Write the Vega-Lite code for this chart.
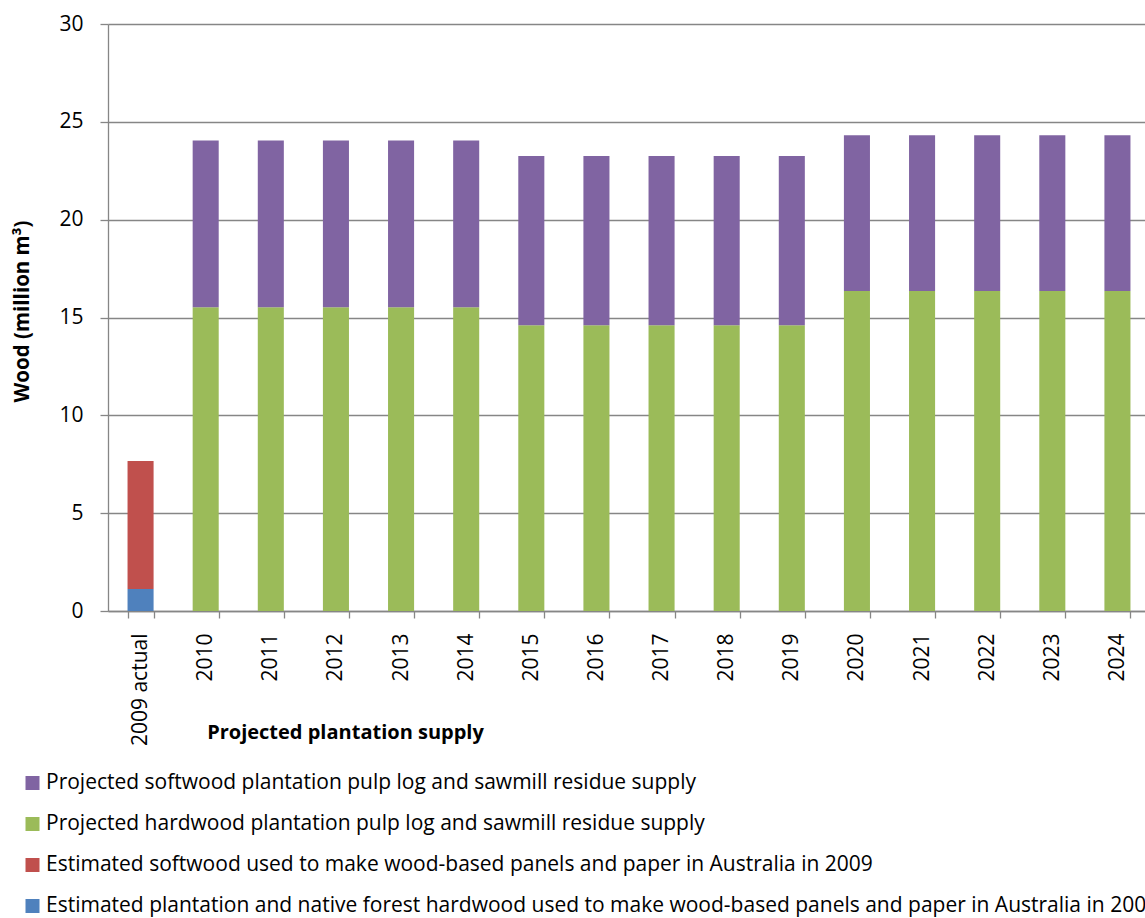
{
  "$schema": "https://vega.github.io/schema/vega-lite/v6.json",
  "autosize": {"type": "none"},
  "width": 1037,
  "height": 587,
  "padding": {"left": 108, "top": 24, "right": 0, "bottom": 307},
  "background": "white",
  "config": {
    "font": "Open Sans",
    "view": {"stroke": null},
    "axis": {
      "labelFont": "Open Sans",
      "titleFont": "Open Sans",
      "labelColor": "#000000",
      "titleColor": "#000000",
      "domainColor": "#868686",
      "tickColor": "#868686",
      "gridColor": "#868686",
      "domainWidth": 1.3,
      "tickWidth": 1.3,
      "gridWidth": 1.3
    },
    "legend": {"labelFont": "Open Sans"}
  },
  "data": {
    "values": [
      {"year": "2009 actual", "series": "Estimated plantation and native forest hardwood used to make wood-based panels and paper in Australia in 2009", "value": 1.12},
      {"year": "2009 actual", "series": "Estimated softwood used to make wood-based panels and paper in Australia in 2009", "value": 6.54},
      {"year": "2010", "series": "Projected hardwood plantation pulp log and sawmill residue supply", "value": 15.52},
      {"year": "2010", "series": "Projected softwood plantation pulp log and sawmill residue supply", "value": 8.53},
      {"year": "2011", "series": "Projected hardwood plantation pulp log and sawmill residue supply", "value": 15.52},
      {"year": "2011", "series": "Projected softwood plantation pulp log and sawmill residue supply", "value": 8.53},
      {"year": "2012", "series": "Projected hardwood plantation pulp log and sawmill residue supply", "value": 15.52},
      {"year": "2012", "series": "Projected softwood plantation pulp log and sawmill residue supply", "value": 8.53},
      {"year": "2013", "series": "Projected hardwood plantation pulp log and sawmill residue supply", "value": 15.52},
      {"year": "2013", "series": "Projected softwood plantation pulp log and sawmill residue supply", "value": 8.53},
      {"year": "2014", "series": "Projected hardwood plantation pulp log and sawmill residue supply", "value": 15.52},
      {"year": "2014", "series": "Projected softwood plantation pulp log and sawmill residue supply", "value": 8.53},
      {"year": "2015", "series": "Projected hardwood plantation pulp log and sawmill residue supply", "value": 14.6},
      {"year": "2015", "series": "Projected softwood plantation pulp log and sawmill residue supply", "value": 8.65},
      {"year": "2016", "series": "Projected hardwood plantation pulp log and sawmill residue supply", "value": 14.6},
      {"year": "2016", "series": "Projected softwood plantation pulp log and sawmill residue supply", "value": 8.65},
      {"year": "2017", "series": "Projected hardwood plantation pulp log and sawmill residue supply", "value": 14.6},
      {"year": "2017", "series": "Projected softwood plantation pulp log and sawmill residue supply", "value": 8.65},
      {"year": "2018", "series": "Projected hardwood plantation pulp log and sawmill residue supply", "value": 14.6},
      {"year": "2018", "series": "Projected softwood plantation pulp log and sawmill residue supply", "value": 8.65},
      {"year": "2019", "series": "Projected hardwood plantation pulp log and sawmill residue supply", "value": 14.6},
      {"year": "2019", "series": "Projected softwood plantation pulp log and sawmill residue supply", "value": 8.65},
      {"year": "2020", "series": "Projected hardwood plantation pulp log and sawmill residue supply", "value": 16.35},
      {"year": "2020", "series": "Projected softwood plantation pulp log and sawmill residue supply", "value": 7.97},
      {"year": "2021", "series": "Projected hardwood plantation pulp log and sawmill residue supply", "value": 16.35},
      {"year": "2021", "series": "Projected softwood plantation pulp log and sawmill residue supply", "value": 7.97},
      {"year": "2022", "series": "Projected hardwood plantation pulp log and sawmill residue supply", "value": 16.35},
      {"year": "2022", "series": "Projected softwood plantation pulp log and sawmill residue supply", "value": 7.97},
      {"year": "2023", "series": "Projected hardwood plantation pulp log and sawmill residue supply", "value": 16.35},
      {"year": "2023", "series": "Projected softwood plantation pulp log and sawmill residue supply", "value": 7.97},
      {"year": "2024", "series": "Projected hardwood plantation pulp log and sawmill residue supply", "value": 16.35},
      {"year": "2024", "series": "Projected softwood plantation pulp log and sawmill residue supply", "value": 7.97}
    ]
  },
  "mark": {"type": "bar"},
  "encoding": {
    "x": {
      "field": "year",
      "type": "nominal",
      "sort": null,
      "scale": {"range": [0, 1042], "paddingInner": 0.6, "paddingOuter": 0.3},
      "axis": {
        "title": "Projected plantation supply",
        "titleFontSize": 20,
        "titleFontWeight": "bold",
        "titleX": 237,
        "titleY": 121,
        "titleAlign": "center",
        "titleBaseline": "middle",
        "labelAngle": 270,
        "labelFontSize": 21,
        "labelPadding": 15,
        "tickSize": 7,
        "tickBand": "extent",
        "grid": false
      }
    },
    "y": {
      "field": "value",
      "type": "quantitative",
      "stack": "zero",
      "scale": {"domain": [0, 30], "nice": false},
      "axis": {
        "title": "Wood (million m³)",
        "titleFontSize": 20.5,
        "titleFontWeight": "bold",
        "titleX": -86,
        "titleY": 287,
        "titleAngle": 270,
        "titleAlign": "center",
        "titleBaseline": "middle",
        "values": [0, 5, 10, 15, 20, 25, 30],
        "labelFontSize": 21,
        "labelPadding": 17,
        "tickSize": 8,
        "grid": true
      }
    },
    "order": {"field": "series", "sort": "ascending"},
    "color": {
      "field": "series",
      "type": "nominal",
      "scale": {
        "domain": [
          "Projected softwood plantation pulp log and sawmill residue supply",
          "Projected hardwood plantation pulp log and sawmill residue supply",
          "Estimated softwood used to make wood-based panels and paper in Australia in 2009",
          "Estimated plantation and native forest hardwood used to make wood-based panels and paper in Australia in 2009"
        ],
        "range": ["#8064A2", "#9BBB59", "#C0504D", "#4F81BD"]
      },
      "legend": {
        "title": null,
        "orient": "none",
        "legendX": -86,
        "legendY": 748.5,
        "direction": "vertical",
        "symbolType": "square",
        "symbolSize": 196,
        "symbolStrokeWidth": 0,
        "labelFontSize": 21,
        "labelColor": "#000000",
        "labelLimit": 2000,
        "labelOffset": 3,
        "rowPadding": 19
      }
    }
  }
}
